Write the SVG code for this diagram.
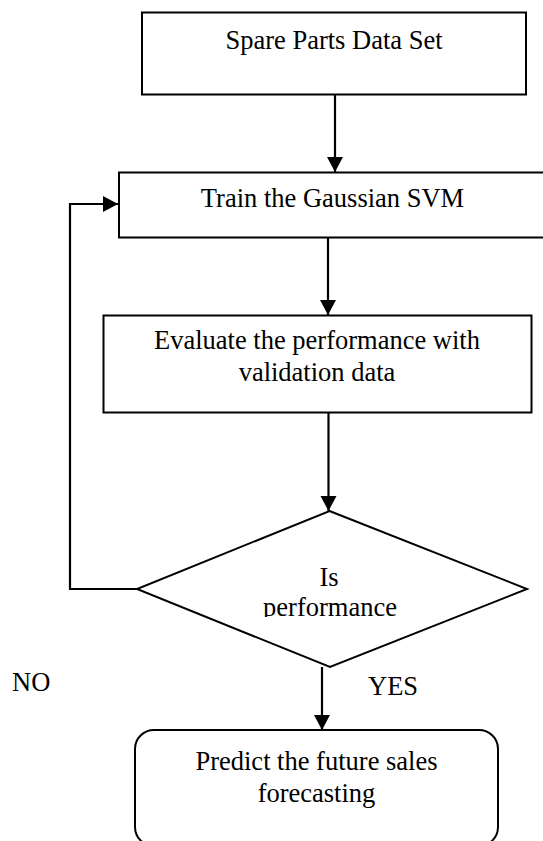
<svg xmlns="http://www.w3.org/2000/svg" width="543" height="841" viewBox="0 0 543 841">
  <style>
    .box { fill: #fff; stroke: #000; stroke-width: 2; }
    .lbl { font-family: "Liberation Serif", "Times New Roman", serif; font-size: 26.5px; fill: #000; }
    .c { text-anchor: middle; }
    .edge { fill: none; stroke: #000; stroke-width: 2.2; }
  </style>
  <defs>
    <marker id="arr" markerUnits="userSpaceOnUse" markerWidth="16" markerHeight="18" refX="15" refY="8" orient="auto">
      <path d="M0,0 L15,8 L0,16 Z" fill="#000"/>
    </marker>
    <clipPath id="clipDiamondText">
      <rect x="0" y="0" width="543" height="617"/>
    </clipPath>
  </defs>
  <rect width="543" height="841" fill="#fff"/>

  <g id="node-dataset">
    <rect class="box" x="142" y="12.5" width="384" height="82"/>
    <text class="lbl c" x="334" y="49">Spare Parts Data Set</text>
  </g>

  <g id="node-train">
    <rect class="box" x="119" y="172.5" width="428" height="65"/>
    <text class="lbl c" x="332.5" y="207">Train the Gaussian SVM</text>
  </g>

  <g id="node-evaluate">
    <rect class="box" x="103.5" y="315.5" width="428" height="97"/>
    <text class="lbl c" x="317" y="349">Evaluate the performance with</text>
    <text class="lbl c" x="317" y="381">validation data</text>
  </g>

  <g id="node-decision">
    <polygon class="box" points="329.5,511 527,589 330,667 137,589"/>
    <text class="lbl c" x="329" y="586">Is</text>
    <text class="lbl c" x="330" y="615.5" clip-path="url(#clipDiamondText)">performance</text>
  </g>

  <g id="node-predict">
    <rect class="box" x="135" y="730" width="363" height="116" rx="19" ry="19"/>
    <text class="lbl c" x="316.5" y="770">Predict the future sales</text>
    <text class="lbl c" x="316.5" y="802">forecasting</text>
  </g>

  <g id="connectors">
    <line class="edge" x1="335" y1="94.5" x2="335" y2="172" marker-end="url(#arr)"/>
    <line class="edge" x1="328" y1="238" x2="328" y2="315" marker-end="url(#arr)"/>
    <line class="edge" x1="328.5" y1="413" x2="328.5" y2="511" marker-end="url(#arr)"/>
    <line class="edge" x1="322" y1="667" x2="322" y2="730" marker-end="url(#arr)"/>
    <polyline class="edge" points="137,589 70,589 70,204 118,204" marker-end="url(#arr)"/>
    <text class="lbl" x="368" y="695">YES</text>
    <text class="lbl" x="12" y="691">NO</text>
  </g>
</svg>
